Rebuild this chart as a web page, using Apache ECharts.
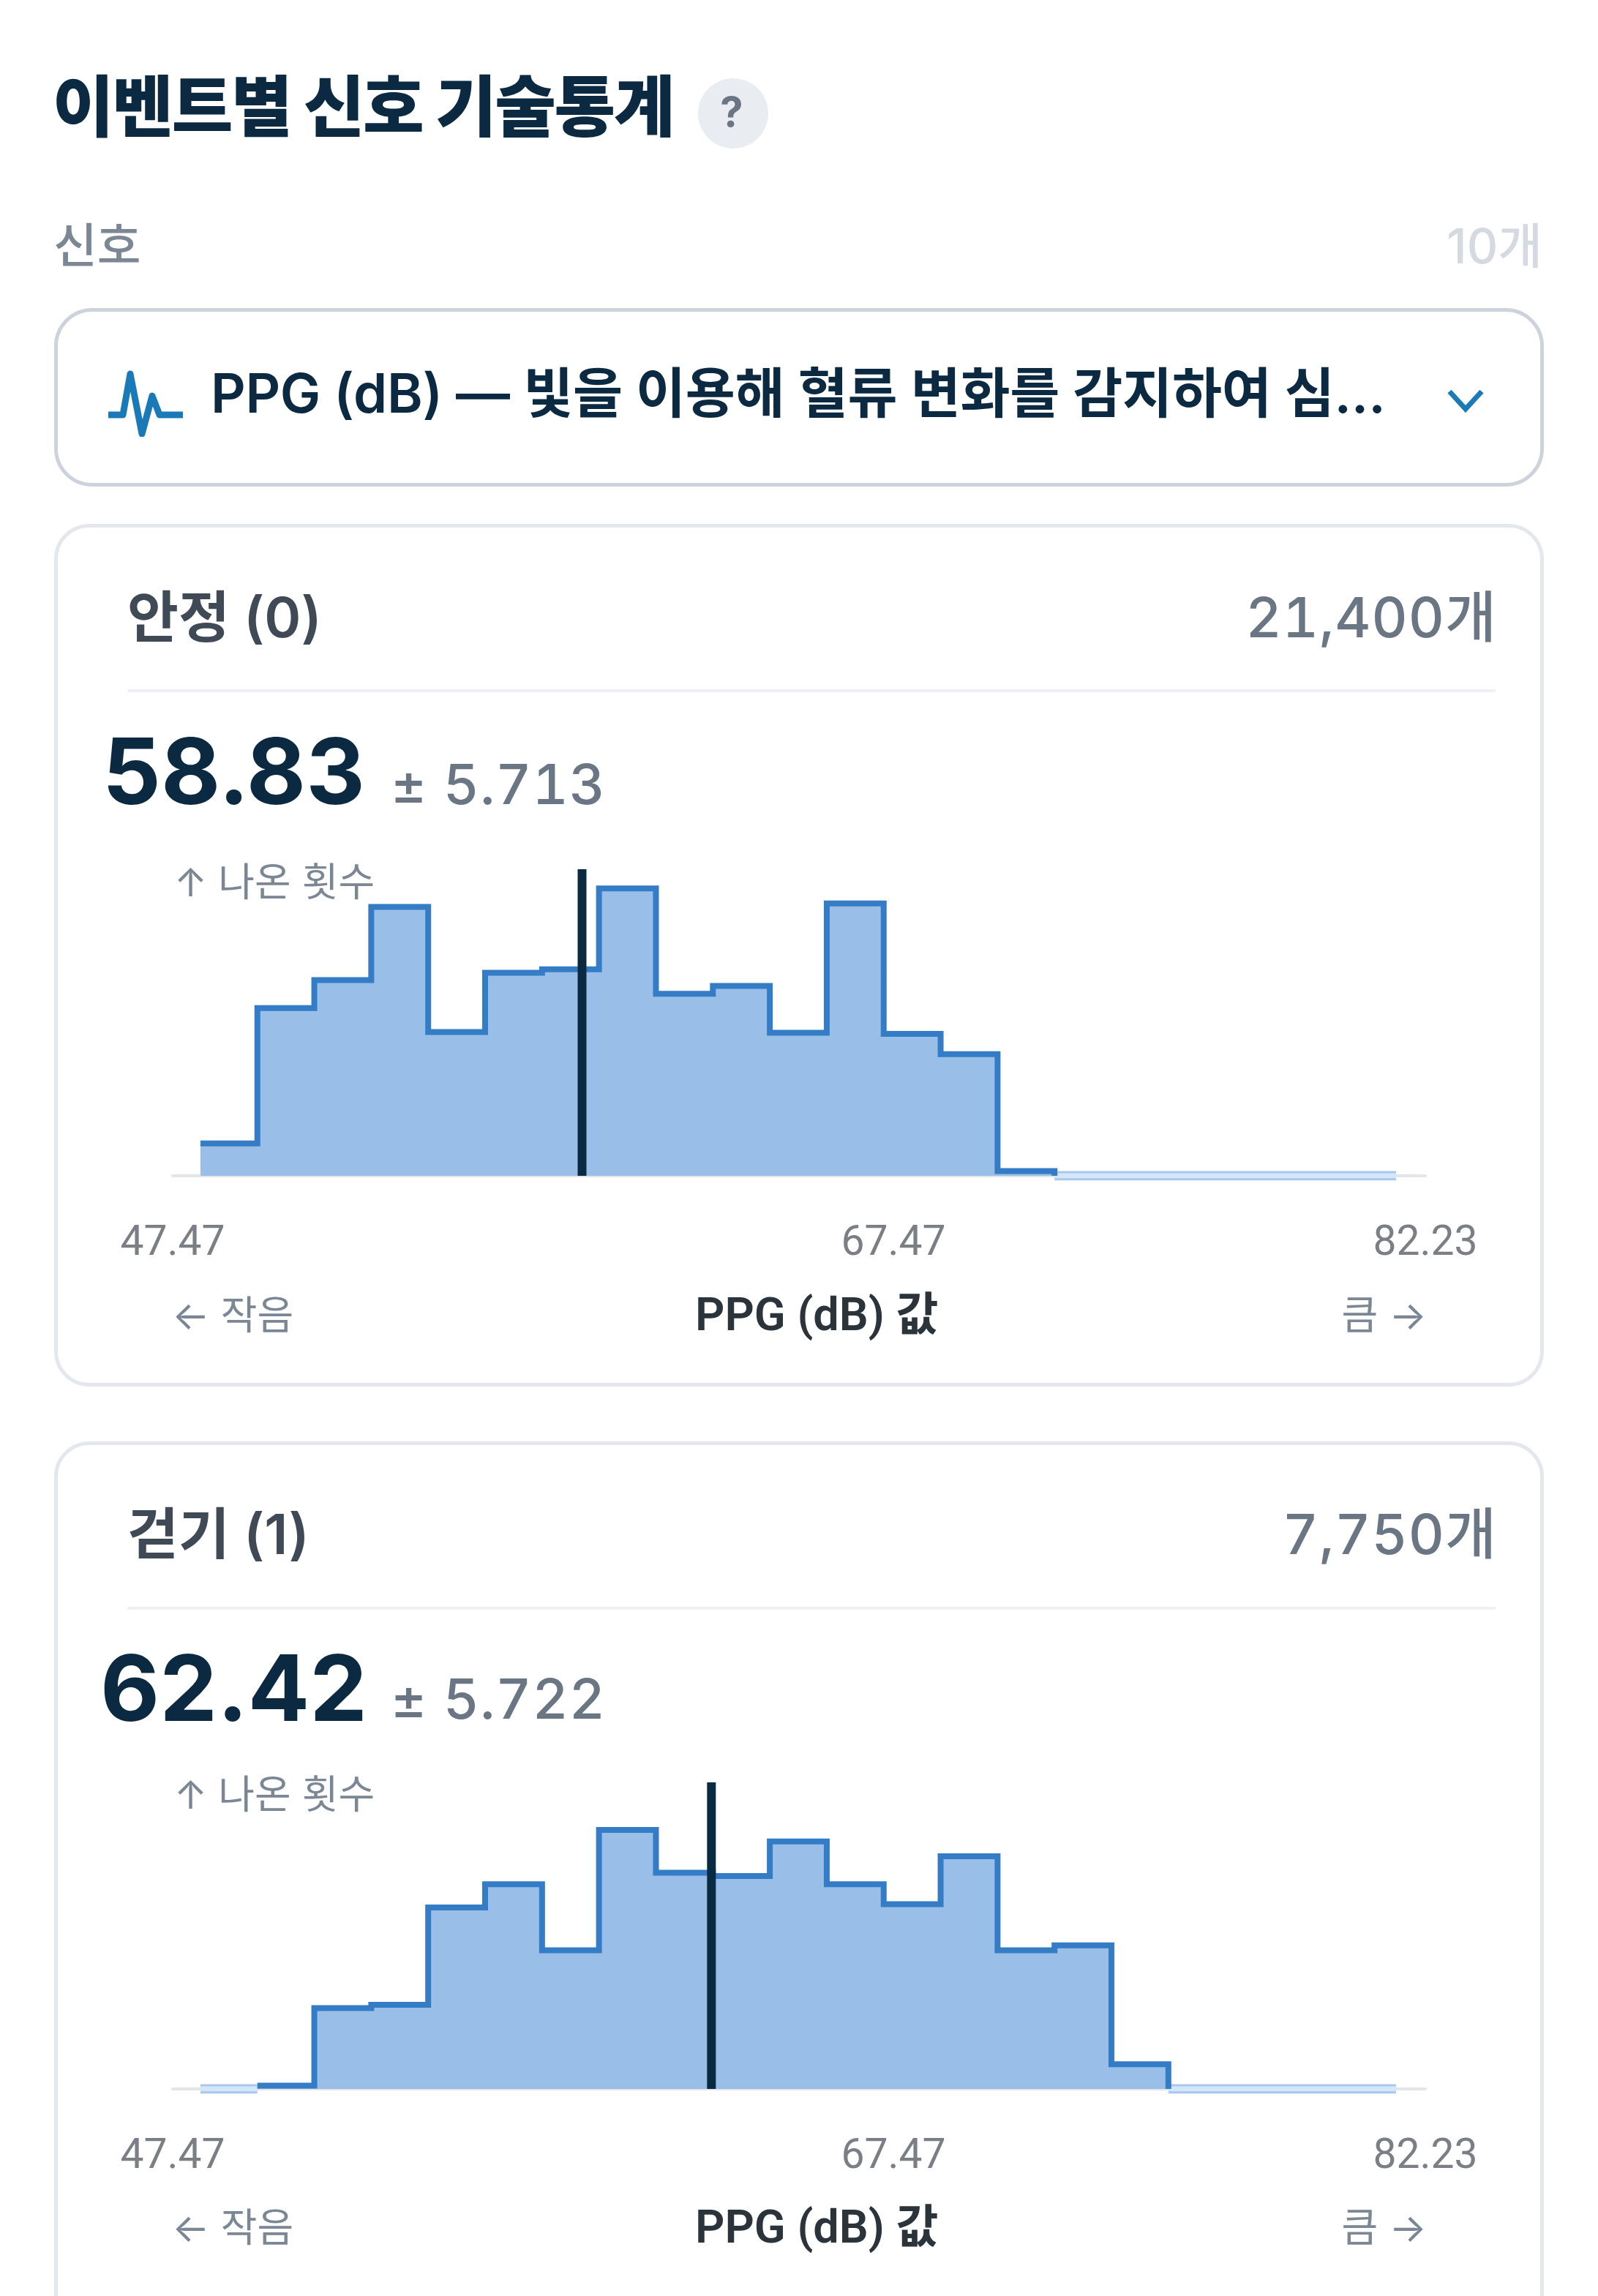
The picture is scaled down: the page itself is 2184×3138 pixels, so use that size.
<!DOCTYPE html>
<html lang="ko">
<head>
<meta charset="utf-8">
<title>이벤트별 신호 기술통계</title>
<script src="https://cdn.jsdelivr.net/npm/echarts@6/dist/echarts.min.js"></script>
<style>
html,body{margin:0;padding:0;background:#fff;width:2184px;height:3138px;overflow:hidden}
body{position:relative;font-family:Inter,"Noto Sans CJK KR",sans-serif}
.t{position:absolute;white-space:nowrap;line-height:1;transform:translateY(-50%)}
.r{text-align:right}
.num{font-variant-numeric:tabular-nums;letter-spacing:1px}
.box{position:absolute;box-sizing:border-box;background:transparent}
.chart{position:absolute;left:0;width:2184px}
svg{position:absolute}
</style>
</head>
<body>
<div class="t" style="left:72px;top:146px;font-size:91px;font-weight:800;color:#0b2a42;letter-spacing:-2.4px">이벤트별 신호 기술통계</div>
<div class="box" style="left:954px;top:107px;width:96px;height:96px;border-radius:50%;background:#e9ecf1"></div>
<div class="t" style="left:952px;width:96px;text-align:center;top:153px;font-size:56px;font-weight:700;color:#6b7684">?</div>
<div class="t" style="left:73px;top:335px;font-size:65px;font-weight:500;color:#7b8794">신호</div>
<div class="t r" style="right:76px;top:336px;font-size:66px;font-weight:500;color:#d5dae0">10개</div>
<div class="box" style="left:74px;top:421px;width:2036px;height:244px;border-radius:52px;border:5px solid #ccd3dd"></div>
<svg style="left:146px;top:505px" width="106" height="92" viewBox="0 0 106 92"><polyline points="2,62 22,62 32,6 48,88 62,36 72,62 104,62" fill="none" stroke="#1a7ab8" stroke-width="9" stroke-linejoin="round"/></svg>
<div class="t" style="left:288px;top:537px;font-size:74px;font-weight:600;color:#0b2a42;letter-spacing:-0.3px">PPG (dB) — 빛을 이용해 혈류 변화를 감지하여 심...</div>
<svg style="left:1976px;top:530px" width="54" height="34" viewBox="0 0 54 34"><polyline points="5,5 27,29 49,5" fill="none" stroke="#1a7ab8" stroke-width="7"/></svg>

<div class="box" style="left:74px;top:716px;width:2036px;height:1179px;border-radius:48px;border:5px solid #e4e8ed"></div>
<div class="box" style="left:74px;top:1970px;width:2036px;height:1300px;border-radius:48px;border:5px solid #e4e8ed"></div>
<div id="cards"></div>

<script>
var binEdges = [48.24,49.82,51.40,52.98,54.56,56.14,57.72,59.30,60.88,62.46,64.04,65.62,67.20,68.78,70.36,71.94,73.52,75.10,76.68,78.26,79.84,81.42];
var tickLabels = [47.47,67.47,82.23];
var axisMin = 47.47, axisMax = 82.23;

var restCounts = [270,1400,1635,2245,1200,1695,1725,2400,1520,1585,1195,2275,1185,1015,40,0,0,0,0,0,0];
var walkCounts = [0,10,245,255,550,620,420,785,655,645,750,620,560,705,420,435,75,0,0,0,0];

var restMean = 58.83, walkMean = 62.42;
var restMax = 2560, walkMax = 929;

var panels = [
  {name:'안정 (0)', total:'21,400개', mean:restMean, sd:'± 5.713', counts:restCounts, ymax:restMax, meanLeft:140},
  {name:'걷기 (1)', total:'7,750개', mean:walkMean, sd:'± 5.722', counts:walkCounts, ymax:walkMax, meanLeft:137}
];

var cards = document.getElementById('cards');
function addText(html){ cards.insertAdjacentHTML('beforeend', html); }

panels.forEach(function(p, idx){
  var yr = function(a, b){ return idx === 0 ? a : b; };
  addText('<div class="t" style="left:174px;top:'+yr(843,2096)+'px;font-size:76px;font-weight:600;color:#3f4a56">'+p.name+'</div>');
  addText('<div class="t r num" style="right:138px;top:'+yr(843,2096)+'px;font-size:76px;font-weight:500;color:#6b7684">'+p.total+'</div>');
  addText('<div class="box" style="left:174px;width:1870px;height:4px;background:#eef0f3;top:'+yr(942,2196)+'px"></div>');
  addText('<div class="t" style="left:'+p.meanLeft+'px;top:'+yr(1053,2306)+'px;font-size:125px;font-weight:700;color:#0b2a42">'+p.mean.toFixed(2)+'</div>');
  addText('<div class="t num" style="left:534px;top:'+yr(1071,2321)+'px;font-size:76px;font-weight:500;color:#6b7684">'+p.sd+'</div>');
  addText('<div class="t" style="left:238px;top:'+yr(1206,2453)+'px;font-size:54px;color:#7b8794">↑ 나온 횟수</div>');
  addText('<div class="t" style="left:235px;top:'+yr(1798,3045)+'px;font-size:54px;color:#7b8794">← 작음</div>');
  addText('<div class="t" style="left:950px;top:'+yr(1796,3043)+'px;font-size:63px;font-weight:600;color:#2b333b;font-family:Roboto,\'Noto Sans CJK KR\',sans-serif">PPG (dB) 값</div>');
  addText('<div class="t r" style="right:234px;top:'+yr(1798,3045)+'px;font-size:54px;color:#7b8794">큼 →</div>');

  var top = yr(1100, 2348);
  var div = document.createElement('div');
  div.className = 'chart';
  div.style.top = top + 'px';
  div.style.height = '640px';
  document.body.appendChild(div);

  var first = p.counts.findIndex(function(c){ return c > 0; });
  var last = p.counts.length - 1;
  while (p.counts[last] === 0) last--;
  var main = [];
  for (var i = first; i <= last; i++) main.push([binEdges[i], p.counts[i]]);
  main.push([binEdges[last + 1], 0]);

  var strip = [];
  for (var j = 0; j < p.counts.length; j++) {
    if (p.counts[j] === 0) { strip.push([binEdges[j], 0]); strip.push([binEdges[j + 1], 0]); }
    else if (strip.length && strip[strip.length - 1] !== null) strip.push(null);
  }

  var base = {type:'line', showSymbol:false, silent:true, animation:false, connectNulls:false};
  var chart = echarts.init(div, null, {renderer:'canvas'});
  chart.setOption({
    animation:false,
    backgroundColor:'transparent',
    grid:{left:236, width:1712, top:88, height:419},
    xAxis:{type:'value', min:axisMin, max:axisMax, z:1,
      axisLine:{show:true, onZero:false, lineStyle:{color:'#e2e6ea', width:4}},
      axisTick:{show:false}, splitLine:{show:false},
      axisLabel:{customValues:tickLabels, margin:65, fontSize:57, color:'#7a7f85', fontFamily:'Roboto',
        formatter:function(v){ return v.toFixed(2); }}},
    yAxis:{type:'value', min:0, max:p.ymax, show:false},
    series:[
      Object.assign({}, base, {name:'빈도', data:main, step:'end', z:3,
        lineStyle:{color:'#347cc6', width:8, join:'miter'},
        areaStyle:{color:'#99bfe8', opacity:1}}),
      Object.assign({}, base, {name:'빈 구간 테두리', data:strip, z:2,
        lineStyle:{color:'#a9c8ea', width:13, cap:'butt'}}),
      Object.assign({}, base, {name:'빈 구간', data:strip, z:2,
        lineStyle:{color:'#d3e6fa', width:7, cap:'butt'}}),
      Object.assign({}, base, {name:'평균', data:[[p.mean,0],[p.mean,p.ymax]], z:5,
        lineStyle:{color:'#0a2a42', width:12, cap:'butt'}})
    ]
  });
});
</script>
</body>
</html>
